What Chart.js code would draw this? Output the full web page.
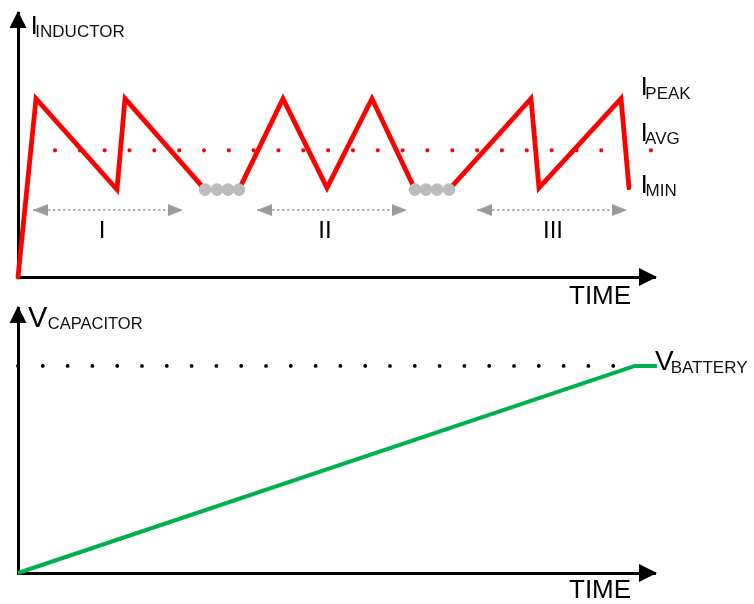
<!DOCTYPE html>
<html><head><meta charset="utf-8">
<script src="https://cdn.jsdelivr.net/npm/chart.js@4.4.1/dist/chart.umd.min.js"></script>
<style>
html,body{margin:0;padding:0;background:#fff;}
#wrap{position:relative;width:754px;height:604px;overflow:hidden;background:#fff;}
canvas{position:absolute;left:0;}
#c1{top:0;} #c2{top:295px;}
</style></head><body>
<div id="wrap"><canvas id="c1" width="754" height="310"></canvas><canvas id="c2" width="754" height="309"></canvas></div>
<script>
// ---------- data (time in arbitrary units 0..100) ----------
const timeMax = 100;

// inductor current (null = idle gap, shown by grey dots)
const inductorTime    = [0, 2.83, 15.54, 16.80, 29.36, 32.0, 34.69, 41.60, 48.51, 55.57, 62.32, 65.0, 67.66, 80.53, 81.79, 94.66, 95.92];
const inductorCurrent = [0, 1.00, 0.49,  1.00,  0.49,  null, 0.49,  1.00,  0.50,  1.00,  0.49,  null, 0.49,  1.00,  0.50,  1.00,  0.50];
const idleTime    = [29.36, 31.24, 32.97, 34.69, 62.32, 64.05, 65.78, 67.66];
const idleCurrent = [0.49, 0.49, 0.49, 0.49, 0.49, 0.49, 0.49, 0.49];
const avgTime    = [5.81, 99.45];
const avgCurrent = [0.71, 0.71];
const currentMax = 1.48;

const regionNames = ['I', 'II', 'III'];
const regionStart = [2.35, 37.52, 72.06];
const regionEnd   = [25.90, 61.07, 95.60];
const regionLevel = 0.375;
const regionLabelTime = [13.19, 48.19, 83.99];
const regionLabelLevel = 0.22;

// capacitor voltage
const capTime    = [0, 96.86, 100.3];
const capVoltage = [0, 1.00, 1.00];
const batteryTime    = [0, 93.45];
const batteryVoltage = [1.00, 1.00];
const voltageMax = 1.28;

// ---------- helpers ----------
const FONT = "'Liberation Sans', Arial, sans-serif";
const pts = (xs, ys) => xs.map((x, i) => ({x: x, y: ys[i]}));

function arrowCanvas(len, half, color) {
  const c = document.createElement('canvas');
  c.width = len * 2; c.height = half * 2;
  const g = c.getContext('2d');
  g.fillStyle = color;
  g.beginPath(); g.moveTo(0, 0); g.lineTo(len, half); g.lineTo(0, half * 2); g.closePath(); g.fill();
  return c;
}
const regionArrow = arrowCanvas(15, 6, '#9a9a9a');

function drawLabel(ctx, xs, ys, L) {
  const px = xs.getPixelForValue(L.t), py = ys.getPixelForValue(L.v);
  ctx.fillStyle = '#000';
  ctx.textBaseline = 'alphabetic';
  ctx.textAlign = L.align || 'left';
  ctx.font = L.size + 'px ' + FONT;
  ctx.fillText(L.main, px, py);
  if (L.sub) {
    const w = ctx.measureText(L.main).width;
    ctx.font = (L.subSize || 17) + 'px ' + FONT;
    ctx.fillStyle = '#111';
    ctx.fillText(L.sub, px + w + L.kern, py + L.dy);
  }
}

function annotPlugin(labels) {
  return {
    id: 'annot',
    afterDraw(chart) {
      const ctx = chart.ctx, a = chart.chartArea;
      const xs = chart.scales.x, ys = chart.scales.y;
      ctx.save();
      ctx.fillStyle = '#000';
      // y-axis arrow head
      ctx.beginPath();
      ctx.moveTo(a.left, a.top - 2);
      ctx.lineTo(a.left - 8.5, a.top + 15);
      ctx.lineTo(a.left + 8.5, a.top + 15);
      ctx.closePath(); ctx.fill();
      // x-axis arrow head
      ctx.beginPath();
      ctx.moveTo(a.right + 2, a.bottom);
      ctx.lineTo(a.right - 16, a.bottom - 9);
      ctx.lineTo(a.right - 16, a.bottom + 9);
      ctx.closePath(); ctx.fill();
      labels.forEach(L => drawLabel(ctx, xs, ys, L));
      ctx.restore();
    }
  };
}

function makeChart(id, datasets, yMax, pad, labels) {
  return new Chart(document.getElementById(id), {
    type: 'line',
    data: {datasets: datasets},
    options: {
      responsive: false, animation: false, events: [],
      layout: {padding: pad},
      plugins: {legend: {display: false}, tooltip: {enabled: false}},
      elements: {line: {tension: 0}},
      scales: {
        x: {type: 'linear', min: 0, max: timeMax,
            grid: {display: false, drawTicks: false}, ticks: {display: false},
            border: {display: true, color: '#000', width: 3},
            afterFit: s => { s.height = 0; }},
        y: {type: 'linear', min: 0, max: yMax,
            grid: {display: false, drawTicks: false}, ticks: {display: false},
            border: {display: true, color: '#000', width: 3},
            afterFit: s => { s.width = 0; }}
      }
    },
    plugins: [annotPlugin(labels)]
  });
}

// ---------- top chart: inductor current ----------
const topSets = [
  {data: pts(idleTime, idleCurrent), showLine: false, pointRadius: 6.3,
   pointBackgroundColor: '#bcbcbc', pointBorderWidth: 0, clip: false, order: 0},
  {data: pts(inductorTime, inductorCurrent), borderColor: '#ff0000', borderWidth: 4.8,
   borderJoinStyle: 'miter', borderCapStyle: 'round', pointRadius: 0, spanGaps: false, clip: false, order: 1},
  {data: pts(avgTime, avgCurrent), borderColor: '#ff0000', borderWidth: 4.2,
   borderDash: [0, 24.83], borderCapStyle: 'round', pointRadius: 0, clip: false, order: 2}
];
regionNames.forEach((n, i) => {
  topSets.push({
    data: pts([regionStart[i], regionEnd[i]], [regionLevel, regionLevel]),
    borderColor: '#9a9a9a', borderWidth: 1.5, borderDash: [2.5, 2.5],
    pointStyle: regionArrow, pointRadius: 5, pointRotation: [180, 0],
    clip: false, order: 3
  });
});
const topLabels = [
  {main: 'I', sub: 'INDUCTOR', t: 1.99, v: 1.36, size: 25, kern: -2.3, dy: 3},
  {main: 'I', sub: 'PEAK', t: 97.75, v: 1.02, size: 25, kern: -2.3, dy: 4},
  {main: 'I', sub: 'AVG', t: 97.75, v: 0.76, size: 25, kern: -2.5, dy: 3},
  {main: 'I', sub: 'MIN', t: 97.75, v: 0.47, size: 25, kern: -2.0, dy: 3},
  {main: 'TIME', t: 86.5, v: -0.15, size: 26}
];
regionNames.forEach((n, i) => topLabels.push({main: n, t: regionLabelTime[i], v: regionLabelLevel, size: 24, align: 'center'}));
makeChart('c1', topSets, currentMax, {left: 18, right: 99, top: 13, bottom: 33}, topLabels);

// ---------- bottom chart: capacitor voltage ----------
const botSets = [
  {data: pts(capTime, capVoltage), borderColor: '#00b050', borderWidth: 4,
   borderJoinStyle: 'round', pointRadius: 0, clip: false, order: 0},
  {data: pts(batteryTime, batteryVoltage), borderColor: '#000', borderWidth: 3.8,
   borderDash: [0, 24.8], borderCapStyle: 'round', pointRadius: 0, clip: false, order: 1}
];
const botLabels = [
  {main: 'V', sub: 'CAPACITOR', t: 1.57, v: 1.19, size: 29, kern: 0.5, dy: 2, subSize: 16.5},
  {main: 'V', sub: 'BATTERY', t: 100.0, v: 0.981, size: 28, kern: -3, dy: 3},
  {main: 'TIME', t: 86.5, v: -0.12, size: 26}
];
makeChart('c2', botSets, voltageMax, {left: 18, right: 99, top: 13, bottom: 31}, botLabels);
</script>
</body></html>
